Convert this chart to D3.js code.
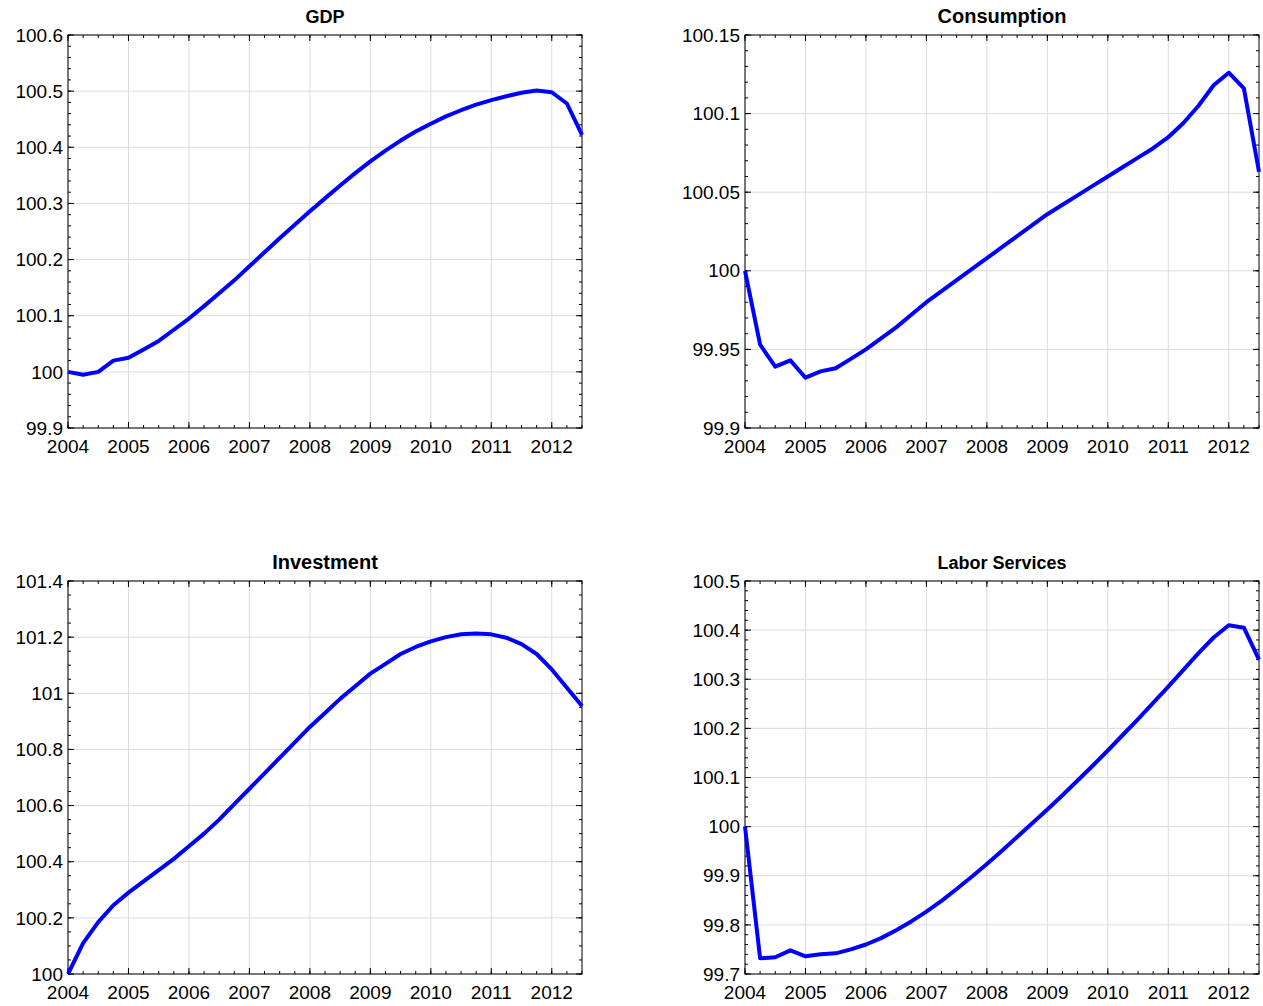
<!DOCTYPE html>
<html><head><meta charset="utf-8">
<script src="https://cdn.jsdelivr.net/npm/d3@7"></script>
<style>body{margin:0;background:#fff}text{font-family:"Liberation Sans",Arial,sans-serif}</style>
</head><body><div id="chart"></div>
<script>
var years = d3.range(35).map(function(i){ return 2004 + i * 0.25; });
var xTicks = [2004, 2005, 2006, 2007, 2008, 2009, 2010, 2011, 2012];

var gdp = [100.0, 99.995, 100.0, 100.02, 100.025, 100.04, 100.055, 100.075, 100.095, 100.117, 100.14, 100.163,
  100.188, 100.213, 100.238, 100.262, 100.286, 100.309, 100.332, 100.354, 100.375, 100.394, 100.412, 100.428,
  100.442, 100.455, 100.466, 100.476, 100.484, 100.491, 100.497, 100.501, 100.498, 100.478, 100.422];
var consumption = [100.0, 99.953, 99.939, 99.943, 99.932, 99.936, 99.938, 99.944, 99.950, 99.957, 99.964, 99.972,
  99.980, 99.987, 99.994, 100.001, 100.008, 100.015, 100.022, 100.029, 100.036, 100.042, 100.048, 100.054,
  100.060, 100.066, 100.072, 100.078, 100.085, 100.094, 100.105, 100.118, 100.126, 100.116, 100.063];
var investment = [100.0, 100.11, 100.185, 100.245, 100.29, 100.33, 100.37, 100.41, 100.455, 100.50, 100.55, 100.605,
  100.66, 100.715, 100.77, 100.825, 100.88, 100.93, 100.98, 101.025, 101.07, 101.105, 101.14, 101.165,
  101.185, 101.2, 101.21, 101.213, 101.21, 101.198, 101.175, 101.14, 101.085, 101.02, 100.955];
var labor = [100.0, 99.732, 99.734, 99.748, 99.736, 99.740, 99.742, 99.750, 99.760, 99.773, 99.789, 99.807,
  99.827, 99.849, 99.873, 99.898, 99.924, 99.951, 99.979, 100.007, 100.035, 100.064, 100.094, 100.124,
  100.155, 100.187, 100.219, 100.252, 100.285, 100.319, 100.353, 100.385, 100.41, 100.405, 100.34];

var panels = [
  {title: "GDP", data: gdp, y: [99.9, 100.6], ticks: [99.9,100,100.1,100.2,100.3,100.4,100.5,100.6], minor: 0.02, x0: 68, y0: 35, fs: 18},
  {title: "Consumption", data: consumption, y: [99.9, 100.15], ticks: [99.9,99.95,100,100.05,100.1,100.15], minor: 0.01, x0: 745, y0: 35, fs: 20},
  {title: "Investment", data: investment, y: [100, 101.4], ticks: [100,100.2,100.4,100.6,100.8,101,101.2,101.4], minor: 0.05, x0: 68, y0: 581, fs: 20},
  {title: "Labor Services", data: labor, y: [99.7, 100.5], ticks: [99.7,99.8,99.9,100,100.1,100.2,100.3,100.4,100.5], minor: 0.02, x0: 745, y0: 581, fs: 18}
];
var pw = 514, ph = 393;

var svg = d3.select("#chart").append("svg").attr("width", 1263).attr("height", 1006);

panels.forEach(function(p) {
  var g = svg.append("g").attr("transform", "translate(" + p.x0 + "," + p.y0 + ")");
  var x = d3.scaleLinear().domain([2004, 2012.5]).range([0, pw]);
  var y = d3.scaleLinear().domain(p.y).range([ph, 0]);

  g.selectAll(".gx").data(xTicks).enter().append("line")
    .attr("x1", x).attr("x2", x).attr("y1", 0).attr("y2", ph).attr("stroke", "#dcdcdc");
  g.selectAll(".gy").data(p.ticks).enter().append("line")
    .attr("y1", y).attr("y2", y).attr("x1", 0).attr("x2", pw).attr("stroke", "#dcdcdc");

  var xm = d3.range(2004, 2012.5001, 0.25);
  var ym = d3.range(p.y[0], p.y[1] + 1e-9, p.minor);
  [0, ph].forEach(function(yy, k) {
    g.selectAll(null).data(xm).enter().append("line")
      .attr("x1", x).attr("x2", x).attr("y1", yy).attr("y2", k ? yy - 3 : yy + 3).attr("stroke", "#000");
    g.selectAll(null).data(xTicks).enter().append("line")
      .attr("x1", x).attr("x2", x).attr("y1", yy).attr("y2", k ? yy - 6 : yy + 6).attr("stroke", "#000");
  });
  [0, pw].forEach(function(xx, k) {
    g.selectAll(null).data(ym).enter().append("line")
      .attr("y1", y).attr("y2", y).attr("x1", xx).attr("x2", k ? xx - 3 : xx + 3).attr("stroke", "#000");
    g.selectAll(null).data(p.ticks).enter().append("line")
      .attr("y1", y).attr("y2", y).attr("x1", xx).attr("x2", k ? xx - 6 : xx + 6).attr("stroke", "#000");
  });

  g.append("rect").attr("width", pw).attr("height", ph).attr("fill", "none").attr("stroke", "#000");

  g.selectAll(null).data(xTicks).enter().append("text")
    .attr("x", x).attr("y", ph + 25).attr("text-anchor", "middle").attr("font-size", 19).text(function(d){ return d; });
  g.selectAll(null).data(p.ticks).enter().append("text")
    .attr("x", -5).attr("y", y).attr("dy", "0.35em").attr("text-anchor", "end").attr("font-size", 19)
    .text(function(d){ return d3.format("~g")(+d.toFixed(3)); });

  g.append("text").attr("x", pw / 2).attr("y", -12).attr("text-anchor", "middle")
    .attr("font-size", p.fs).attr("font-weight", "bold").text(p.title);

  g.append("path").datum(p.data)
    .attr("fill", "none").attr("stroke", "#0000ff").attr("stroke-width", 4).attr("stroke-linejoin", "round")
    .attr("d", d3.line().x(function(d, i){ return x(years[i]); }).y(function(d){ return y(d); }));
});
</script></body></html>
